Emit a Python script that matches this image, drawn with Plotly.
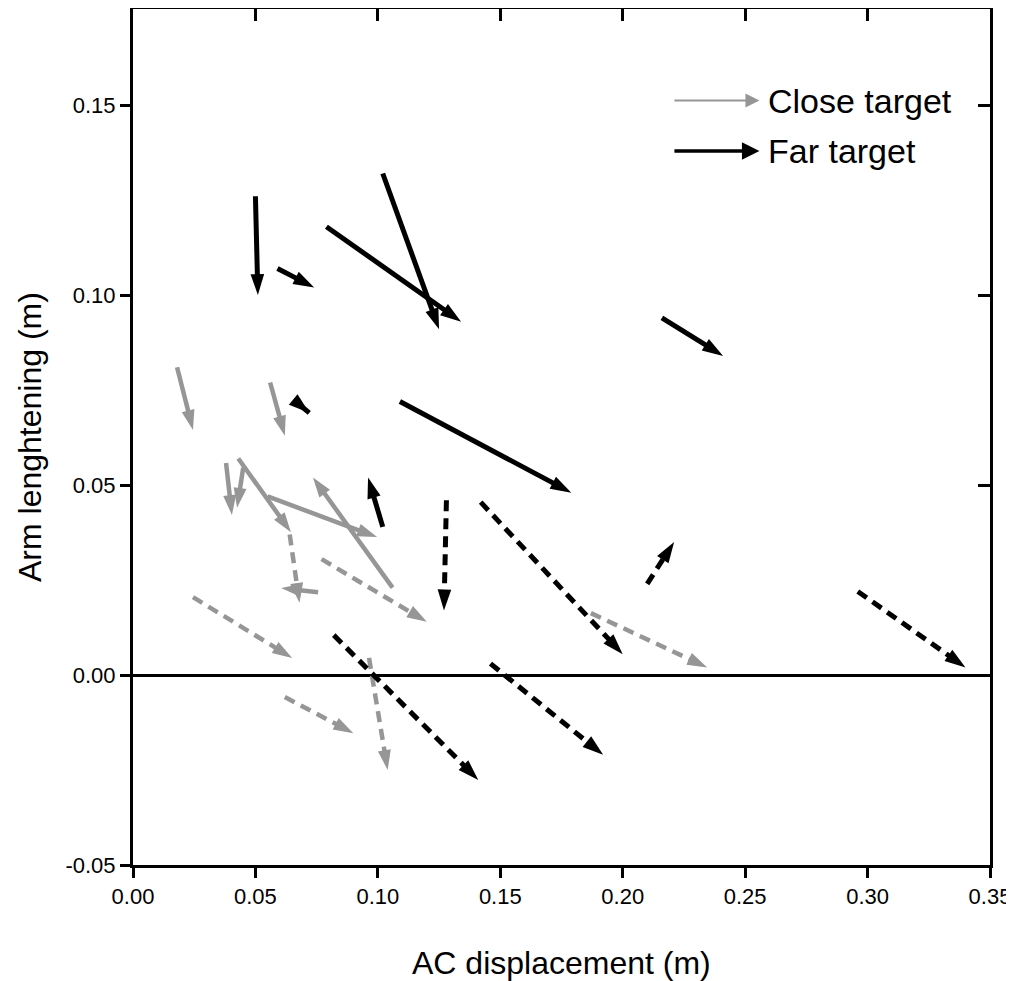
import plotly.graph_objects as go

# ---------------- data (m) ----------------
# Far target, solid arrows: start (x0,y0) -> end (x1,y1)
far_solid_x0 = [0.050, 0.059, 0.079, 0.102, 0.109, 0.216, 0.066, 0.102]
far_solid_y0 = [0.126, 0.107, 0.118, 0.132, 0.072, 0.094, 0.0722, 0.039]
far_solid_x1 = [0.051, 0.074, 0.134, 0.125, 0.179, 0.241, 0.072, 0.096]
far_solid_y1 = [0.100, 0.102, 0.093, 0.091, 0.048, 0.084, 0.069, 0.052]

# Far target, dashed arrows
far_dash_x0 = [0.128, 0.142, 0.210, 0.296, 0.082, 0.146]
far_dash_y0 = [0.046, 0.0455, 0.024, 0.022, 0.0105, 0.003]
far_dash_x1 = [0.127, 0.200, 0.221, 0.340, 0.141, 0.192]
far_dash_y1 = [0.017, 0.0055, 0.035, 0.002, -0.0276, -0.021]

# Close target, solid arrows
close_solid_x0 = [0.018, 0.056, 0.038, 0.045, 0.043, 0.055, 0.106, 0.0756]
close_solid_y0 = [0.081, 0.077, 0.0558, 0.0545, 0.057, 0.047, 0.023, 0.0218]
close_solid_x1 = [0.0245, 0.062, 0.0404, 0.0425, 0.0645, 0.0997, 0.0735, 0.0605]
close_solid_y1 = [0.0645, 0.063, 0.0421, 0.044, 0.0376, 0.0363, 0.052, 0.0229]

# Close target, dashed arrows
close_dash_x0 = [0.064, 0.077, 0.0245, 0.187, 0.062, 0.0964]
close_dash_y0 = [0.037, 0.0305, 0.0205, 0.0163, -0.0058, 0.0045]
close_dash_x1 = [0.068, 0.120, 0.065, 0.2345, 0.090, 0.104]
close_dash_y1 = [0.019, 0.014, 0.0045, 0.002, -0.0153, -0.025]

x_ticks = [0.00, 0.05, 0.10, 0.15, 0.20, 0.25, 0.30, 0.35]
x_ticklabels = ["0.00", "0.05", "0.10", "0.15", "0.20", "0.25", "0.30", "0.35"]
y_ticks = [-0.05, 0.00, 0.05, 0.10, 0.15]
y_ticklabels = ["-0.05", "0.00", "0.05", "0.10", "0.15"]

legend_labels = ["Close target", "Far target"]
x_title = "AC displacement (m)"
y_title = "Arm lenghtening (m)"

GRAY = "#969696"
BLACK = "#000000"
FONT = "Liberation Sans, Arial, sans-serif"

fig = go.Figure()


def add_arrows(x0s, y0s, x1s, y1s, color, width, dash, head):
    for x0, y0, x1, y1 in zip(x0s, y0s, x1s, y1s):
        fig.add_trace(go.Scatter(
            x=[x0, x1], y=[y0, y1], mode="lines+markers",
            line=dict(color=color, width=width, dash=dash),
            marker=dict(symbol="arrow", angleref="previous", size=head,
                        color=color, line=dict(width=0)),
            showlegend=False, hoverinfo="skip", cliponaxis=False,
        ))


add_arrows(close_solid_x0, close_solid_y0, close_solid_x1, close_solid_y1, GRAY, 4.5, "solid", 21)
add_arrows(close_dash_x0, close_dash_y0, close_dash_x1, close_dash_y1, GRAY, 4.5, "11px,7px", 21)
add_arrows(far_solid_x0, far_solid_y0, far_solid_x1, far_solid_y1, BLACK, 5, "solid", 22)
add_arrows(far_dash_x0, far_dash_y0, far_dash_x1, far_dash_y1, BLACK, 5, "11px,7px", 22)

# invisible trace to anchor the mirrored tick axes
fig.add_trace(go.Scatter(x=[0], y=[0], xaxis="x2", yaxis="y2", mode="markers",
                         marker=dict(opacity=0), showlegend=False, hoverinfo="skip"))

XR = [0, 0.35]
YR = [-0.05, 0.1753]

# page body has an 8px default margin, so the figure is sized 8px smaller
fig.update_layout(
    width=1006, height=973,
    margin=dict(l=125, r=24, t=1, b=116, autoexpand=False),
    paper_bgcolor="white", plot_bgcolor="white",
    font=dict(family=FONT, color="black"),
    xaxis=dict(range=XR, tickvals=x_ticks, ticktext=x_ticklabels, automargin=False,
               ticks="outside", ticklen=10, tickwidth=3, tickcolor="black",
               showline=True, linewidth=3, linecolor="black", mirror=True,
               showgrid=False, zeroline=False,
               tickfont=dict(size=22, family=FONT)),
    yaxis=dict(range=YR, tickvals=y_ticks, ticktext=y_ticklabels, automargin=False,
               ticks="outside", ticklen=10, tickwidth=3, tickcolor="black",
               showline=True, linewidth=3, linecolor="black", mirror=True,
               showgrid=False, zeroline=True, zerolinecolor="black", zerolinewidth=3,
               tickfont=dict(size=22, family=FONT)),
    xaxis2=dict(range=XR, overlaying="x", side="top", tickvals=x_ticks, automargin=False,
                ticks="inside", ticklen=12, tickwidth=3, tickcolor="black",
                showticklabels=False, showline=False, showgrid=False, zeroline=False),
    yaxis2=dict(range=YR, overlaying="y", side="right", tickvals=y_ticks, automargin=False,
                ticks="inside", ticklen=12, tickwidth=3, tickcolor="black",
                showticklabels=False, showline=False, showgrid=False, zeroline=False),
)

# axis titles
fig.add_annotation(xref="paper", yref="paper", x=0.5, y=0, yshift=-98,
                   xanchor="center", yanchor="middle", showarrow=False, text=x_title,
                   font=dict(size=32, family=FONT, color="black"))
fig.add_annotation(xref="paper", yref="paper", x=0, y=0.5, xshift=-103,
                   xanchor="center", yanchor="middle", showarrow=False, text=y_title,
                   textangle=-90, font=dict(size=32, family=FONT, color="black"))

# legend drawn as arrows + text
leg_y = [0.893, 0.834]
leg_colors = [GRAY, BLACK]
leg_widths = [2, 3.5]
leg_sizes = [1.4, 1.0]
for lab, ly, col, lw, sz in zip(legend_labels, leg_y, leg_colors, leg_widths, leg_sizes):
    fig.add_annotation(xref="x domain", yref="y domain", x=0.731, y=ly,
                       ax=0.630, ay=ly, axref="x domain", ayref="y domain",
                       showarrow=True, arrowhead=2, arrowsize=sz,
                       arrowwidth=lw, arrowcolor=col, text="")
    fig.add_annotation(xref="x domain", yref="y domain", x=0.739, y=ly, xanchor="left",
                       yanchor="middle", showarrow=False, text=lab,
                       font=dict(size=34, family=FONT, color="black"))

fig.write_html("out.html")
